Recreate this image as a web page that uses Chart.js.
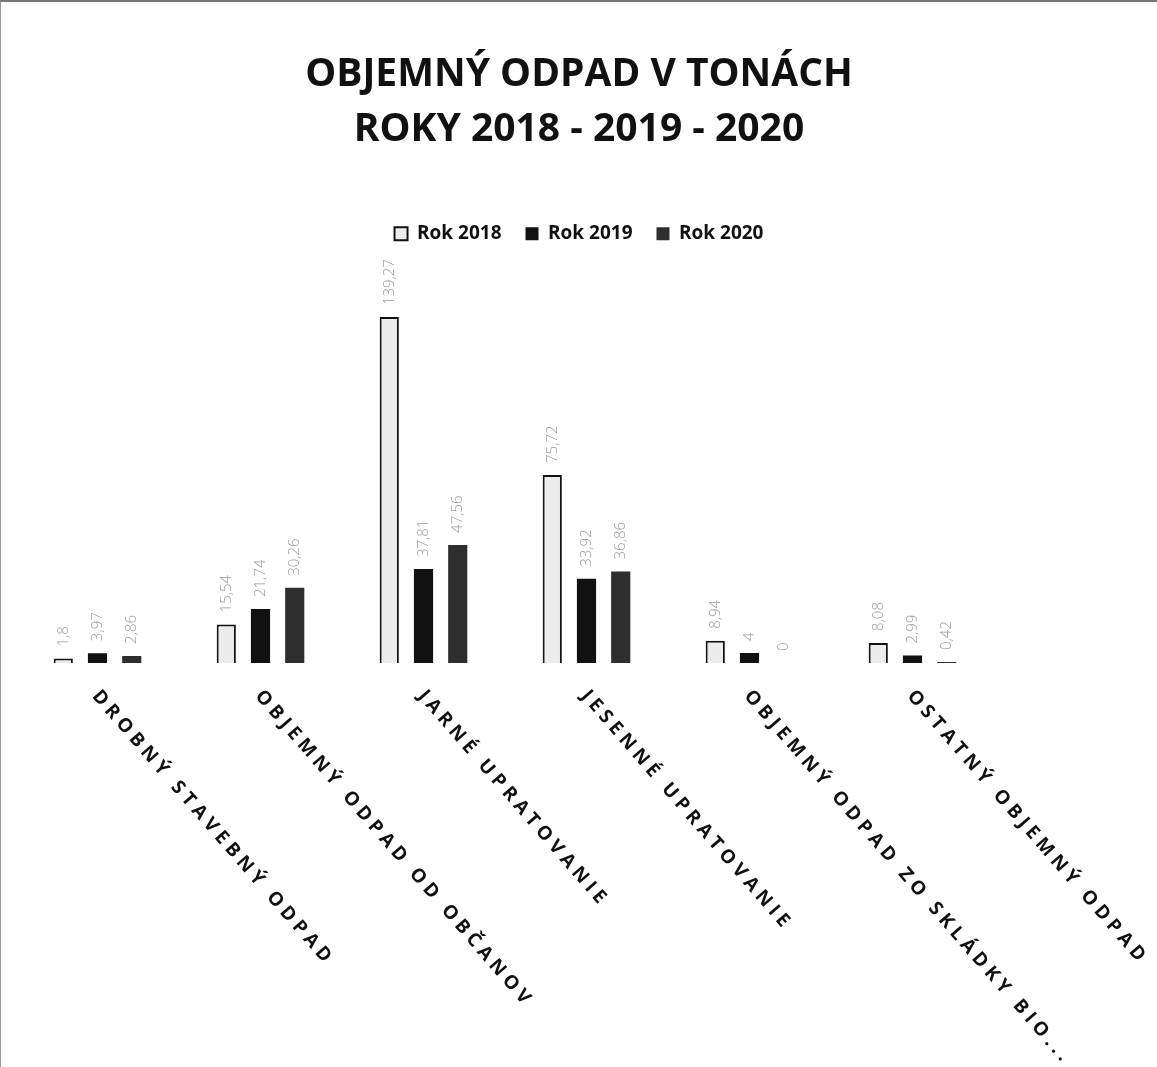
<!DOCTYPE html>
<html>
<head>
<meta charset="utf-8">
<script src="https://cdn.jsdelivr.net/npm/chart.js@4/dist/chart.umd.min.js"></script>
<style>
  html, body { margin: 0; padding: 0; background: #fff; }
  #wrap { position: relative; width: 1157px; height: 1067px; box-sizing: border-box;
          border-top: 2px solid #777; border-left: 1px solid #999; }
</style>
</head>
<body>
<div id="wrap"><canvas id="odpadChart" width="1156" height="1065"></canvas></div>
<script>
// kategórie a hodnoty (tony)
const kategorie = [
  'DROBNÝ STAVEBNÝ ODPAD',
  'OBJEMNÝ ODPAD OD OBČANOV',
  'JARNÉ UPRATOVANIE',
  'JESENNÉ UPRATOVANIE',
  'OBJEMNÝ ODPAD ZO SKLÁDKY BIO...',
  'OSTATNÝ OBJEMNÝ ODPAD'
];
const rok2018 = [1.8, 15.54, 139.27, 75.72, 8.94, 8.08];
const rok2019 = [3.97, 21.74, 37.81, 33.92, 4, 2.99];
const rok2020 = [2.86, 30.26, 47.56, 36.86, 0, 0.42];
const nazvySerii = ['Rok 2018', 'Rok 2019', 'Rok 2020'];

const FONT = "'Open Sans', 'DejaVu Sans', sans-serif";

const fmt = v => String(v).replace('.', ',');

// popisky hodnôt nad stĺpcami (otočené o 90°)
const hodnotyPlugin = {
  id: 'hodnoty',
  afterDatasetsDraw(chart) {
    const ctx = chart.ctx;
    ctx.save();
    ctx.font = "300 15px " + FONT;
    ctx.fillStyle = '#9a9a9a';
    ctx.textAlign = 'left';
    ctx.textBaseline = 'middle';
    chart.data.datasets.forEach((ds, i) => {
      chart.getDatasetMeta(i).data.forEach((bar, j) => {
        ctx.save();
        ctx.translate(bar.x, bar.y - 12);
        ctx.rotate(-Math.PI / 2);
        ctx.fillText(fmt(ds.data[j]), 0, 0);
        ctx.restore();
      });
    });
    ctx.restore();
  }
};

// šikmé popisky kategórií pod osou
const kategoriePlugin = {
  id: 'kategorie',
  afterDraw(chart) {
    const ctx = chart.ctx;
    const xScale = chart.scales.x;
    const y0 = chart.chartArea.bottom;
    ctx.save();
    ctx.font = "bold 19px " + FONT;
    ctx.letterSpacing = '4.8px';
    ctx.fillStyle = '#111';
    ctx.textAlign = 'left';
    ctx.textBaseline = 'middle';
    kategorie.forEach((k, i) => {
      const x = xScale.getPixelForValue(i);
      ctx.save();
      ctx.translate(x - 2, y0 + 30);
      ctx.rotate(49 * Math.PI / 180);
      ctx.fillText(k, 0, 0);
      ctx.restore();
    });
    ctx.restore();
  }
};

const ctx = document.getElementById('odpadChart').getContext('2d');
new Chart(ctx, {
  type: 'bar',
  data: {
    labels: kategorie,
    datasets: [
      { label: nazvySerii[0], data: rok2018, backgroundColor: '#ececec', borderColor: '#111', borderWidth: 2 },
      { label: nazvySerii[1], data: rok2019, backgroundColor: '#111', borderColor: '#111', borderWidth: 0 },
      { label: nazvySerii[2], data: rok2020, backgroundColor: '#2e2e2e', borderColor: '#2e2e2e', borderWidth: 0 }
    ]
  },
  options: {
    responsive: false,
    animation: false,
    categoryPercentage: 0.63,
    barPercentage: 0.56,
    plugins: {
      title: {
        display: true,
        text: ['OBJEMNÝ ODPAD V TONÁCH', 'ROKY 2018 - 2019 - 2020'],
        color: '#111',
        font: { family: FONT, size: 39, weight: 'bold', lineHeight: 1.4 },
        padding: { top: 46, bottom: 43 }
      },
      legend: {
        position: 'top',
        labels: {
          color: '#111',
          font: { family: FONT, size: 19, weight: 'bold' },
          boxWidth: 13,
          boxHeight: 13,
          padding: 24
        }
      },
      tooltip: { enabled: false }
    },
    scales: {
      x: {
        ticks: { display: false },
        grid: { display: false },
        border: { display: false },
        afterFit: s => { s.height = 404; }
      },
      y: {
        min: 0, max: 165,
        ticks: { display: false },
        grid: { display: false },
        border: { display: false },
        afterFit: s => { s.width = 15; }
      },
      y2: {
        position: 'right',
        ticks: { display: false },
        grid: { display: false },
        border: { display: false },
        afterFit: s => { s.width = 163; }
      }
    }
  },
  plugins: [hodnotyPlugin, kategoriePlugin]
});
</script>
</body>
</html>
